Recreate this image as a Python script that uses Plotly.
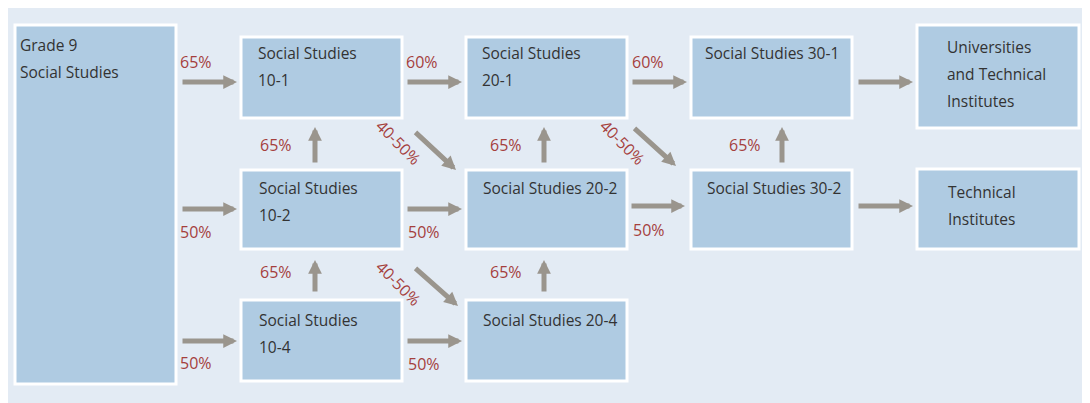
import plotly.graph_objects as go

# ---- data ----
node_names = ["Grade 9 Social Studies", "Social Studies 10-1", "Social Studies 10-2",
              "Social Studies 10-4", "Social Studies 20-1", "Social Studies 20-2",
              "Social Studies 20-4", "Social Studies 30-1", "Social Studies 30-2",
              "Universities and Technical Institutes", "Technical Institutes"]
node_lines = [["Grade 9", "Social Studies"], ["Social Studies", "10-1"], ["Social Studies", "10-2"],
              ["Social Studies", "10-4"], ["Social Studies", "20-1"], ["Social Studies 20-2"],
              ["Social Studies 20-4"], ["Social Studies 30-1"], ["Social Studies 30-2"],
              ["Universities", "and Technical", "Institutes"], ["Technical", "Institutes"]]
flow_labels = ["65%", "60%", "60%", "", "50%", "50%", "50%", "", "50%", "50%",
               "65%", "65%", "65%", "65%", "65%", "40-50%", "40-50%", "40-50%"]

# ---- layout geometry (pixels) ----
W, H = 1090, 403
OFF = 8  # page body margin
boxes = [(15, 25, 176, 384), (241, 37, 402, 118), (241, 170, 402, 249), (241, 300, 402, 381),
         (466, 37, 627, 118), (466, 170, 627, 249), (466, 300, 627, 381),
         (691, 37, 852, 118), (691, 170, 852, 249), (917, 25, 1079, 128), (917, 169, 1079, 249)]
text_pos = [(18, 45), (256, 53), (257, 188), (257, 320), (480, 53), (481, 188), (481, 320),
            (703, 53), (705, 188), (945, 47), (946, 192)]
arrows = [((181, 82), (237, 82)), ((406, 82), (462, 82)), ((631, 82), (687, 82)), ((857, 82), (913, 82)),
          ((181, 209), (237, 209)), ((406, 209), (462, 209)), ((630, 206), (685, 206)), ((857, 206), (913, 206)),
          ((181, 341), (237, 341)), ((406, 341), (462, 341)),
          ((315, 164), (315, 127)), ((315, 293), (315, 260)), ((544, 164), (544, 127)),
          ((544, 293), (544, 260)), ((782, 164), (782, 127)),
          ((414, 131), (456, 170)), ((633, 127), (676, 166)), ((414, 267), (458, 306))]
label_pos = [(196, 62), (422, 62), (648, 62), None, (196, 232), (424, 232), (649, 230), None,
             (196, 363), (424, 364), (276, 145), (506, 145), (745, 145), (276, 272), (506, 272),
             (398, 142), (622, 142), (398, 283)]

BOX_FILL = "#AFCBE2"
PANEL = "#E3EBF4"
ARROW = "#9A958D"
RED = "#A5403D"
TXT = "#333333"
FONT = "Open Sans"

fig = go.Figure()
shapes = [dict(type="rect", xref="x", yref="y", x0=6, y0=5, x1=W, y1=H,
               fillcolor=PANEL, line=dict(width=0), layer="below")]
for (x0, y0, x1, y1) in boxes:
    shapes.append(dict(type="rect", xref="x", yref="y", x0=x0, y0=y0, x1=x1, y1=y1,
                       fillcolor=BOX_FILL, line=dict(color="white", width=3), layer="below"))

annotations = []
for lines, (tx, ty) in zip(node_lines, text_pos):
    for i, ln in enumerate(lines):
        annotations.append(dict(x=tx, y=ty + 27 * i, xref="x", yref="y", text=ln, showarrow=False,
                                xanchor="left", yanchor="middle",
                                font=dict(family=FONT, size=15.5, color=TXT)))
for (s, e) in arrows:
    annotations.append(dict(x=e[0], y=e[1], ax=s[0], ay=s[1], xref="x", yref="y", axref="x", ayref="y",
                            text="", showarrow=True, arrowhead=2, arrowsize=0.55, arrowwidth=5,
                            arrowcolor=ARROW, standoff=0, startstandoff=0))
for lab, pos in zip(flow_labels, label_pos):
    if not lab or pos is None:
        continue
    ang = 45 if "-" in lab else 0
    annotations.append(dict(x=pos[0], y=pos[1], xref="x", yref="y", text=lab, showarrow=False,
                            xanchor="center", yanchor="middle", textangle=ang,
                            font=dict(family=FONT, size=16, color=RED)))

fig.add_trace(go.Scatter(x=[OFF, W], y=[OFF, H], mode="markers", marker=dict(opacity=0),
                         hoverinfo="skip", showlegend=False))
fig.update_layout(width=W - OFF, height=H - OFF, margin=dict(l=0, r=0, t=0, b=0),
                  paper_bgcolor="white", plot_bgcolor="white",
                  shapes=shapes, annotations=annotations, showlegend=False,
                  xaxis=dict(range=[OFF, W], visible=False, fixedrange=True),
                  yaxis=dict(range=[H, OFF], visible=False, fixedrange=True))
fig.write_html("out.html", config=dict(displayModeBar=False))
